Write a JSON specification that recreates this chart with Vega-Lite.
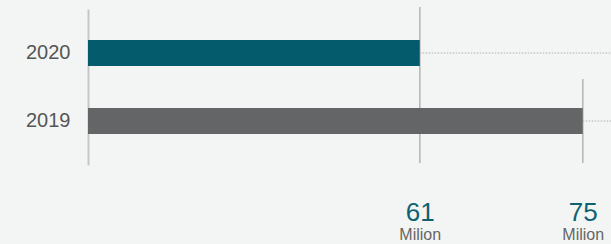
{
  "$schema": "https://vega.github.io/schema/vega-lite/v6.json",
  "width": 523,
  "height": 156,
  "autosize": "none",
  "padding": {"left": 88, "top": 7, "right": 0, "bottom": 81},
  "background": "#f3f5f4",
  "config": {
    "view": {"stroke": null},
    "font": "Liberation Sans"
  },
  "data": {"values": [
    {"year": "2020", "value": 61},
    {"year": "2019", "value": 75}
  ]},
  "resolve": {"axis": {"x": "independent"}},
  "layer": [
    {
      "mark": {"type": "rule", "color": "#b8b8b8", "strokeWidth": 1.3},
      "encoding": {
        "x": {"datum": 61, "type": "quantitative", "scale": {"domain": [32.5, 77.43], "zero": false, "nice": false},
          "axis": {"values": [61, 75], "labelFontSize": 26, "labelColor": "#0d6272", "labelPadding": 36, "domain": false, "ticks": false, "grid": false, "title": null, "orient": "bottom"}}
      }
    },
    {
      "mark": {"type": "rule", "color": "#b8b8b8", "strokeWidth": 1.3},
      "encoding": {
        "x": {"datum": 75, "type": "quantitative", "axis": null},
        "y": {"datum": "2019", "bandPosition": -1.115, "scale": {"domain": ["2020", "2019"], "range": [2, 158], "paddingInner": 0.6176, "paddingOuter": 0.456}},
        "y2": {"datum": "2019", "bandPosition": 2.115}
      }
    },
    {
      "mark": {"type": "rule", "color": "#b0b0b0", "strokeWidth": 1, "strokeDash": [1.5, 1.5]},
      "encoding": {
        "x": {"field": "value", "type": "quantitative", "axis": null},
        "x2": {"datum": 77.43},
        "y": {"field": "year", "type": "nominal", "sort": ["2020", "2019"]}
      }
    },
    {
      "mark": {"type": "bar"},
      "encoding": {
        "y": {"field": "year", "type": "nominal", "sort": ["2020", "2019"],
          "axis": {"title": null, "ticks": false, "domainColor": "#c6c6c6", "domainWidth": 2, "labelFontSize": 20, "labelColor": "#555555", "labelPadding": 18, "labelAngle": 0}},
        "x": {"field": "value", "type": "quantitative",
          "axis": {"values": [61, 75], "labelExpr": "'Milion'", "labelFontSize": 16, "labelColor": "#666666", "labelPadding": 63, "domain": false, "ticks": false, "grid": false, "title": null, "orient": "bottom"}},
        "x2": {"datum": 32.5},
        "color": {"field": "year", "type": "nominal", "scale": {"domain": ["2020", "2019"], "range": ["#045b6b", "#646566"]}, "legend": null}
      }
    }
  ]
}
